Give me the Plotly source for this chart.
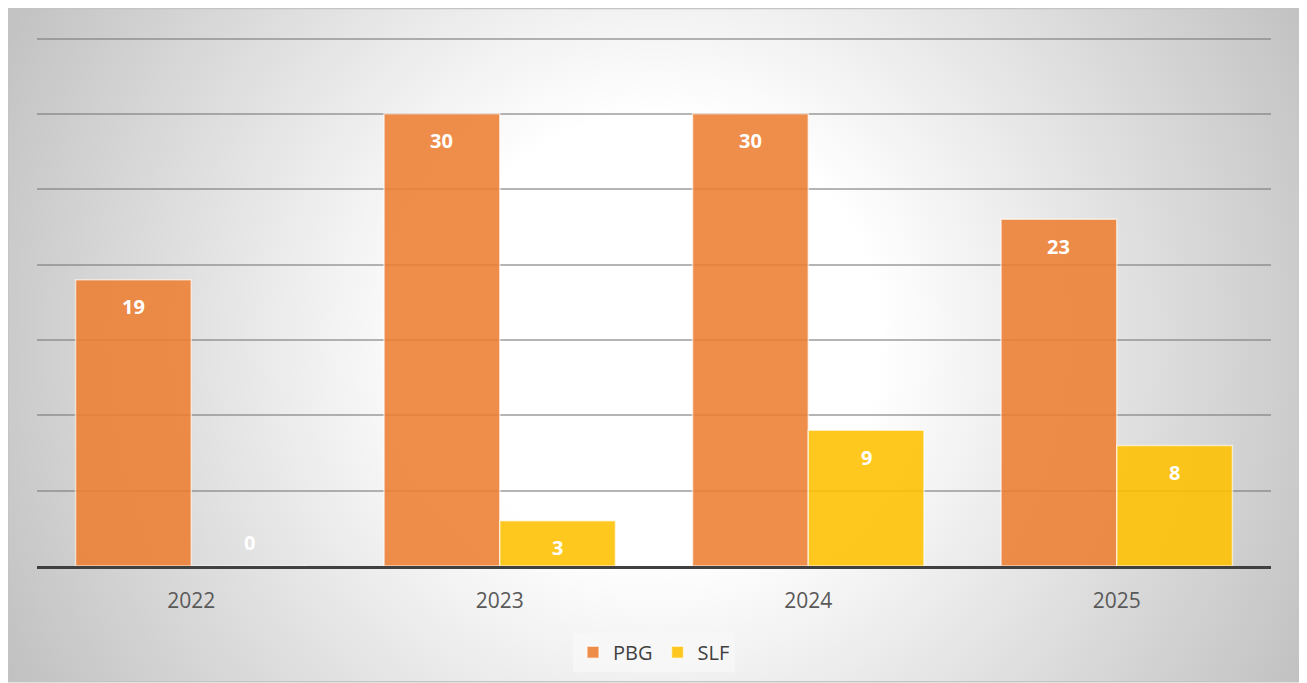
import plotly.graph_objects as go
import base64

categories = ["2022", "2023", "2024", "2025"]
pbg = [19, 30, 30, 23]
slf = [0, 3, 9, 8]
series_names = ["PBG", "SLF"]

W, H = 1294, 675
L, R, T, B = 29, 31, 29, 116
pw, ph = W - L - R, H - T - B

svg = f"""<svg xmlns='http://www.w3.org/2000/svg' width='{W}' height='{H}' viewBox='0 0 {W} {H}' preserveAspectRatio='none'>
<defs><radialGradient id='g' gradientUnits='userSpaceOnUse' cx='650' cy='330' r='740'>
<stop offset='0' stop-color='#ffffff'/><stop offset='0.3' stop-color='#ffffff'/><stop offset='1' stop-color='#c0c0c0'/></radialGradient></defs>
<rect width='{W}' height='{H}' fill='url(#g)'/></svg>"""
src = "data:image/svg+xml;base64," + base64.b64encode(svg.encode()).decode()

fig = go.Figure()
fig.add_trace(go.Bar(x=categories, y=pbg, name=series_names[0],
                     marker=dict(color="rgba(237,125,49,0.88)", line=dict(color="rgba(255,255,255,0.6)", width=1.5))))
fig.add_trace(go.Bar(x=categories, y=slf, name=series_names[1],
                     marker=dict(color="rgba(255,192,0,0.88)", line=dict(color="rgba(255,255,255,0.6)", width=1.5))))

# data labels (inside end; zero values sit just above the baseline)
annotations = []
for si, vals in enumerate([pbg, slf]):
    off = -0.1875 if si == 0 else 0.1875
    for ci, v in enumerate(vals):
        annotations.append(dict(x=ci + off, y=v, xref="x", yref="y", text=f"<b>{v}</b>",
                                showarrow=False, yshift=(24 if v == 0 else -27),
                                font=dict(color="white", size=20, family="Open Sans")))

fig.update_layout(
    width=W, height=H,
    margin=dict(l=L, r=R, t=T, b=B),
    paper_bgcolor="white",
    plot_bgcolor="rgba(0,0,0,0)",
    barmode="group", bargap=0.25, bargroupgap=0,
    font=dict(family="Open Sans", size=18, color="#595959"),
    annotations=annotations,
    legend=dict(orientation="h", x=0.5, xanchor="center", y=-0.161, yanchor="middle",
                bgcolor="rgba(248,248,248,0.8)", font=dict(size=20, color="#404040"),
                itemwidth=30, traceorder="normal"),
    images=[dict(source=src, xref="paper", yref="paper",
                 x=-L / pw, y=1 + T / ph, sizex=W / pw, sizey=H / ph,
                 xanchor="left", yanchor="top", sizing="stretch", layer="below")],
    shapes=[dict(type="rect", xref="paper", yref="paper",
                 x0=-L / pw, x1=(W - L - 1) / pw, y0=1 + (T - H) / ph, y1=1 + (T - 0.5) / ph,
                 line=dict(color="#c4c4c4", width=1.5), layer="below")],
)
fig.update_xaxes(showgrid=False, showline=True, linecolor="#404040", linewidth=3,
                 ticks="", ticklabelstandoff=14, tickfont=dict(size=21, color="#595959"))
fig.update_yaxes(range=[0, 35.1], tick0=0, dtick=5, showgrid=True, gridcolor="rgba(120,120,120,0.55)",
                 gridwidth=1.5, showticklabels=False, zeroline=False)

fig.write_html("out.html")
